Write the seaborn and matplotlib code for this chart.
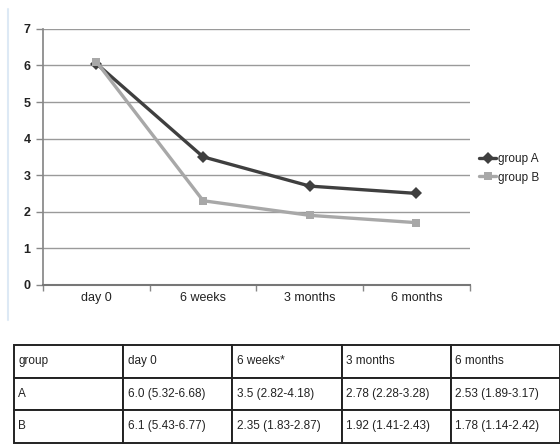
import matplotlib.pyplot as plt
import seaborn as sns
import pandas as pd

# values
times = ['day 0', '6 weeks', '3 months', '6 months']
group_a = [6.05, 3.5, 2.7, 2.5]
group_b = [6.1, 2.3, 1.9, 1.7]

# table text
table_header = ['group', 'day 0', '6 weeks*', '3 months', '6 months']
table_a = ['A', '6.0 (5.32-6.68)', '3.5 (2.82-4.18)', '2.78 (2.28-3.28)', '2.53 (1.89-3.17)']
table_b = ['B', '6.1 (5.43-6.77)', '2.35 (1.83-2.87)', '1.92 (1.41-2.43)', '1.78 (1.14-2.42)']

sns.set_theme(style='white')
plt.rcParams['font.family'] = ['Liberation Sans', 'DejaVu Sans']

df = pd.DataFrame({
    'time': times * 2,
    'value': group_a + group_b,
    'group': ['group A'] * 4 + ['group B'] * 4,
})

fig = plt.figure(figsize=(5.6, 4.45), dpi=100)
ax = fig.add_axes([0.077, 0.36, 0.762, 0.575])

sns.lineplot(data=df, x='time', y='value', hue='group', style='group',
             palette={'group A': '#3f3f3f', 'group B': '#a8a8a8'},
             markers={'group A': 'D', 'group B': 's'}, dashes=False,
             markersize=6, linewidth=2.4, markeredgewidth=0, sort=False, ax=ax)

ax.set_ylim(0, 7)
ax.set_xlim(-0.5, 3.5)
ax.set_yticks(range(0, 8))
ax.set_xticks([-0.5, 0.5, 1.5, 2.5, 3.5])
ax.set_xticklabels([])
ax.set_xticks(range(4), minor=True)
ax.set_xticklabels(times, minor=True)
ax.tick_params(axis='x', which='major', length=4, width=1, color='#888888', direction='out', bottom=True)
ax.tick_params(axis='x', which='minor', length=0, labelsize=9, pad=5, labelcolor='#222222')
ax.tick_params(axis='y', length=5, width=1, color='#888888', left=True, labelsize=9, pad=4, labelcolor='#222222')
for lbl in ax.get_yticklabels():
    lbl.set_fontweight('bold')
ax.yaxis.grid(True, color='#9a9a9a', linewidth=1)
ax.set_axisbelow(True)
for side in ['top', 'right']:
    ax.spines[side].set_visible(False)
ax.spines['left'].set_color('#888888')
ax.spines['bottom'].set_color('#777777')
ax.spines['bottom'].set_linewidth(1.5)
ax.set_xlabel('')
ax.set_ylabel('')

ax.legend(loc='center left', bbox_to_anchor=(1.0, 0.455), frameon=False,
          fontsize=8.5, handlelength=1.4, handletextpad=0.2, labelspacing=0.55,
          borderaxespad=0.4, labelcolor='#222222')

# faint left border line
fig.add_artist(plt.Line2D([0.014, 0.014], [0.28, 0.98], color='#dde9f5', linewidth=1.5))

tax = fig.add_axes([0.025, 0.005, 0.975, 0.22])
tax.axis('off')
tbl = tax.table(cellText=[table_header, table_a, table_b], cellLoc='left',
                bbox=[0, 0, 1, 1])
tbl.auto_set_font_size(False)
tbl.set_fontsize(8.5)
for (r, c), cell in tbl.get_celld().items():
    cell.set_linewidth(1.4)
    cell.set_edgecolor('#222222')
    cell.get_text().set_color('#222222')
    cell.PAD = 0.04

fig.savefig('out.png', dpi=100)
